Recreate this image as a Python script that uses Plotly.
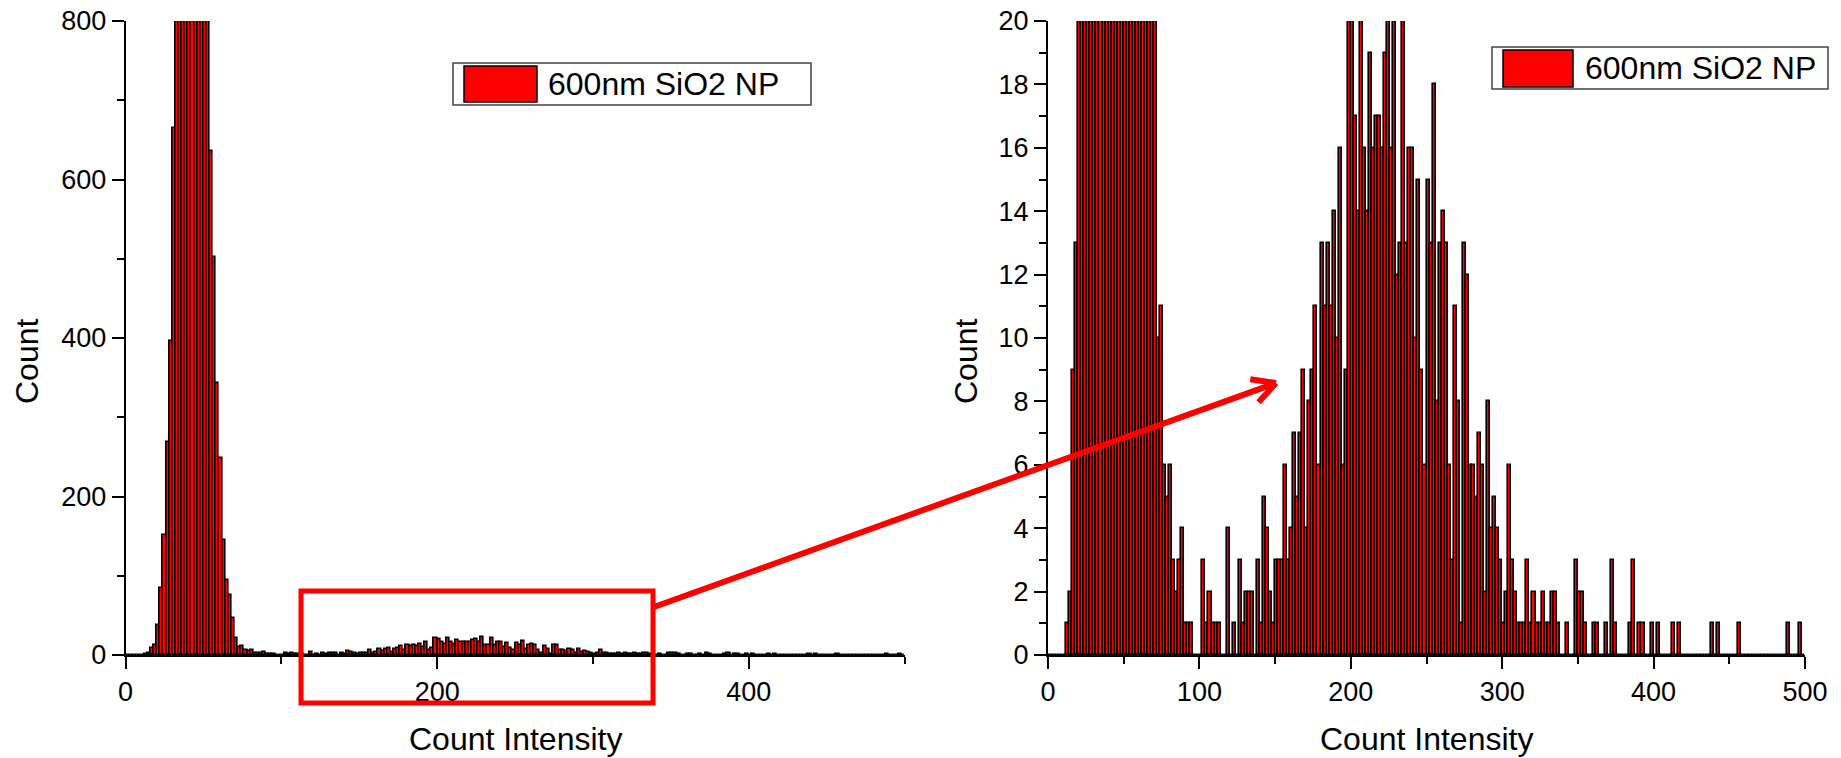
import numpy as np
import plotly.graph_objects as go

# ---------------- data ----------------
bin_width = 2
bin_starts = list(range(0, 500, 2))          # Count Intensity bins (start of each 2-wide bin)
counts = [
    0, 0, 0, 0, 0, 0, 1, 2, 9, 13,                        # 0-18
    38, 85, 151, 269, 396, 665, 880, 1050, 1190, 1290,    # 20-38
    1340, 1350, 1310, 1220, 1090, 940, 810, 636, 502, 343,  # 40-58
    249, 145, 95, 76, 47, 22, 10, 11, 6, 5,               # 60-78
    6, 3, 2, 3, 4, 1, 1, 1, 0, 0,                         # 80-98
    0, 3, 1, 2, 1, 1, 1, 0, 0, 4,                         # 100-118
    0, 1, 0, 3, 1, 2, 2, 2, 0, 3,                         # 120-138
    1, 5, 4, 2, 1, 3, 3, 3, 6, 3,                         # 140-158
    4, 7, 5, 7, 9, 4, 8, 9, 11, 6,                        # 160-178
    13, 11, 13, 11, 14, 10, 16, 6, 9, 21,                 # 180-198
    20, 17, 14, 22, 16, 14, 19, 16, 17, 17,               # 200-218
    16, 19, 20, 16, 23, 12, 13, 21, 13, 16,               # 220-238
    16, 10, 15, 9, 6, 15, 13, 18, 8, 13,                  # 240-258
    14, 13, 6, 3, 11, 8, 1, 13, 12, 6,                    # 260-278
    6, 5, 7, 6, 2, 8, 4, 5, 4, 3,                         # 280-298
    1, 2, 6, 3, 2, 1, 1, 1, 3, 1,                         # 300-318
    2, 1, 1, 2, 1, 1, 2, 2, 1, 0,                         # 320-338
    0, 1, 0, 0, 3, 2, 2, 1, 0, 0,                         # 340-358
    1, 1, 0, 0, 1, 0, 3, 1, 0, 0,                         # 360-378
    0, 0, 1, 3, 0, 1, 1, 0, 0, 1,                         # 380-398
    0, 1, 0, 0, 0, 0, 1, 0, 1, 0,                         # 400-418
    0, 0, 0, 0, 0, 0, 0, 0, 0, 1,                         # 420-438
    0, 1, 0, 0, 0, 0, 0, 0, 1, 0,                         # 440-458
    0, 0, 0, 0, 0, 0, 0, 0, 0, 0,                         # 460-478
    0, 0, 0, 0, 1, 0, 0, 0, 1, 0,                         # 480-498
]
series_name = "600nm SiO2 NP"
x_title = "Count Intensity"
y_title = "Count"
left_y_range = [0, 800]
right_y_range = [0, 20]
x_range = [0, 500]

# ---------------- geometry helpers (pixels -> paper) ----------------
W, H = 1841, 758
def px(x):
    return x / W
def py(y):
    return 1 - y / H

FONT = "Liberation Sans, Arial, sans-serif"
BAR_FILL = "#ff0000"
BAR_LINE = "#000000"

fig = go.Figure()
for xa, ya in (("x", "y"), ("x2", "y2")):
    fig.add_trace(go.Bar(
        x=bin_starts, y=counts, width=bin_width, offset=0,
        xaxis=xa, yaxis=ya, name=series_name, showlegend=False,
        marker=dict(color=BAR_FILL, line=dict(color=BAR_LINE, width=1.6)),
    ))

def axis_style(**kw):
    d = dict(showline=True, linecolor="black", linewidth=2, mirror=False,
             showgrid=False, zeroline=False, ticks="outside", ticklen=12,
             tickwidth=2, tickcolor="black", automargin=False,
             tickfont=dict(family=FONT, size=27, color="black"))
    d.update(kw)
    return d

MINOR = dict(ticklen=7, tickwidth=2, tickcolor="black", ticks="outside")

L_X0, L_X1 = 125.6, 904.6
R_X0, R_X1 = 1048.0, 1805.0
Y_TOP, Y_BOT = 21.0, 655.0

fig.update_layout(
    width=W, height=H,
    margin=dict(l=0, r=0, t=0, b=0, autoexpand=False),
    paper_bgcolor="white", plot_bgcolor="white",
    bargap=0, showlegend=False,
    xaxis=axis_style(domain=[px(L_X0), px(L_X1)], range=x_range, anchor="y",
                     tickmode="linear", tick0=0, dtick=200, minor=dict(dtick=100, **MINOR)),
    yaxis=axis_style(domain=[py(Y_BOT), py(Y_TOP)], range=left_y_range, anchor="x",
                     tickmode="linear", tick0=0, dtick=200, minor=dict(dtick=100, **MINOR)),
    xaxis2=axis_style(domain=[px(R_X0), px(R_X1)], range=x_range, anchor="y2",
                      tickmode="linear", tick0=0, dtick=100, minor=dict(dtick=50, **MINOR)),
    yaxis2=axis_style(domain=[py(Y_BOT), py(Y_TOP)], range=right_y_range, anchor="x2",
                      tickmode="linear", tick0=0, dtick=2, minor=dict(dtick=1, **MINOR)),
)

annotations = []
# axis titles
for cx in ((L_X0 + L_X1) / 2, (R_X0 + R_X1) / 2):
    annotations.append(dict(text=x_title, x=px(cx), y=py(739), xref="paper", yref="paper",
                            xanchor="center", yanchor="middle", showarrow=False,
                            font=dict(family=FONT, size=32, color="black")))
for cx in (27, 966):
    annotations.append(dict(text=y_title, x=px(cx), y=py(361), xref="paper", yref="paper",
                            xanchor="center", yanchor="middle", showarrow=False, textangle=-90,
                            font=dict(family=FONT, size=32, color="black")))

shapes = []
# legends: (box x0, box x1, box y0, box y1, swatch x0, swatch x1, swatch y0, swatch y1, text x)
legend_boxes = [
    (453, 811, 63, 105, 464, 537, 66, 102, 546),
    (1492, 1828, 47, 89, 1503, 1573, 50, 87, 1583),
]
for bx0, bx1, by0, by1, sx0, sx1, sy0, sy1, tx in legend_boxes:
    shapes.append(dict(type="rect", xref="paper", yref="paper",
                       x0=px(bx0), x1=px(bx1), y0=py(by1), y1=py(by0),
                       line=dict(color="#444444", width=1.5), fillcolor="white", layer="above"))
    shapes.append(dict(type="rect", xref="paper", yref="paper",
                       x0=px(sx0), x1=px(sx1), y0=py(sy1), y1=py(sy0),
                       line=dict(color="black", width=1.5), fillcolor=BAR_FILL, layer="above"))
    annotations.append(dict(text=series_name, x=px(tx), y=py((by0 + by1) / 2),
                            xref="paper", yref="paper", xanchor="left", yanchor="middle",
                            showarrow=False, font=dict(family=FONT, size=32, color="black")))

# zoom rectangle on left plot
RED = "#ff0000"
shapes.append(dict(type="rect", xref="paper", yref="paper",
                   x0=px(301), x1=px(653), y0=py(703), y1=py(591),
                   line=dict(color=RED, width=5), layer="above"))
# arrow to right plot
ax0, ay0 = 654, 607
ax1, ay1 = 1276, 383
shapes.append(dict(type="line", xref="paper", yref="paper",
                   x0=px(ax0), y0=py(ay0), x1=px(ax1), y1=py(ay1),
                   line=dict(color=RED, width=6), layer="above"))
ang = np.arctan2(ay0 - ay1, ax0 - ax1)
for d in (np.radians(28), -np.radians(28)):
    ex = ax1 + 26 * np.cos(ang + d)
    ey = ay1 + 26 * np.sin(ang + d)
    shapes.append(dict(type="line", xref="paper", yref="paper",
                       x0=px(ax1), y0=py(ay1), x1=px(ex), y1=py(ey),
                       line=dict(color=RED, width=6), layer="above"))

fig.update_layout(annotations=annotations, shapes=shapes)
fig.write_html("out.html")
